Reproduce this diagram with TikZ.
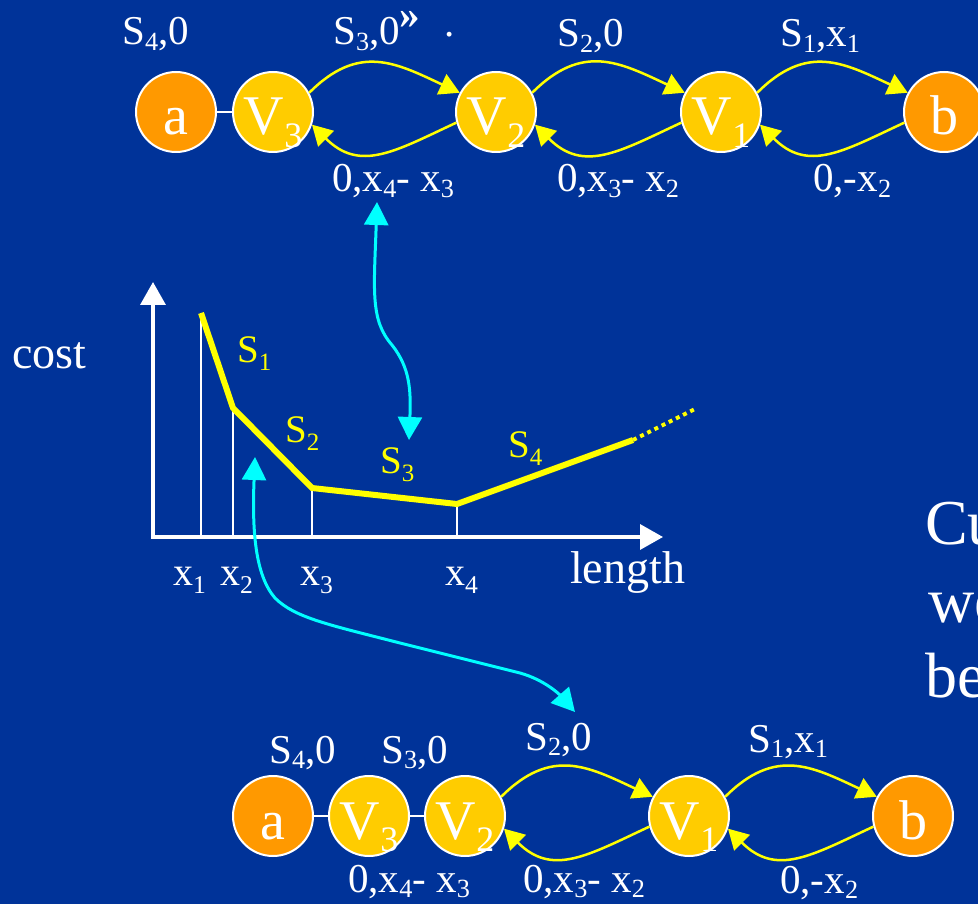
\documentclass[tikz,border=0pt]{standalone}
\usepackage{graphicx}
\usepackage{fontspec}
\setmainfont{Liberation Serif}
\usetikzlibrary{arrows.meta}
\definecolor{fond}{RGB}{0,51,153}
\definecolor{orangeA}{RGB}{255,153,0}
\definecolor{jauneV}{RGB}{255,204,0}
\definecolor{jaune}{RGB}{255,255,0}
\definecolor{cyanF}{RGB}{0,255,255}
\newcommand{\bas}[2][.14em]{\raisebox{-#1}{\scalebox{.64}{#2}}}

\begin{document}
\begin{tikzpicture}[x=1pt,y=1pt,
  sommet/.style={circle,draw=white,line width=2pt,minimum size=80pt,inner sep=0pt,text height=46pt,text depth=0pt,text=white,font=\fontsize{56}{60}\selectfont},
  extr/.style={sommet,fill=orangeA},
  inter/.style={sommet,fill=jauneV},
  etiq/.style={anchor=base west,inner sep=0pt,text=white,font=\fontsize{41}{44}\selectfont},
  pente/.style={anchor=base west,inner sep=0pt,text=jaune,font=\fontsize{39}{42}\selectfont},
  fleche/.style={draw=jaune,line width=2.5pt,-{Triangle[length=20pt,width=22pt]}},
  lien/.style={draw=white,line width=2pt},
  renvoi/.style={draw=cyanF,line width=3pt,{Triangle[length=23pt,width=24pt]}-{Triangle[length=23pt,width=24pt]}},
  axe/.style={draw=white,line width=3.5pt,{Triangle[length=23pt,width=25pt]}-{Triangle[length=23pt,width=25pt]}}]
\useasboundingbox (0,0) rectangle (978,-904);
\clip (0,0) rectangle (978,-904);
\fill[fond] (0,0) rectangle (978,-904);
\begin{scope}
% Rangée du haut : a, V3, V2, V1, b avec les arcs aller et retour.
\node[extr] (aT) at (176,-112) {a};
\node[inter] (v3T) at (273,-112) {V\bas[.22em]{3}};
\node[inter] (v2T) at (496,-112) {V\bas[.22em]{2}};
\node[inter] (v1T) at (721,-112) {V\bas[.22em]{1}};
\node[extr] (bT) at (944,-112) {b};
\draw[lien] (aT) -- (v3T);
\draw[fleche] (v3T.28) to[out=45,in=155,looseness=1.2] (v2T.152);
\draw[fleche] (v2T.195) to[out=205,in=-45,looseness=1.2] (v3T.-18);
\draw[fleche] (v2T.28) to[out=45,in=155,looseness=1.2] (v1T.152);
\draw[fleche] (v1T.195) to[out=205,in=-45,looseness=1.2] (v2T.-18);
\draw[fleche] (v1T.28) to[out=45,in=155,looseness=1.2] (bT.152);
\draw[fleche] (bT.195) to[out=205,in=-45,looseness=1.2] (v1T.-18);
\node[etiq] (s4T) at (122,-45) {S\bas{4},0};
\node[etiq] (s3T) at (333,-45) {S\bas{3},0\raisebox{.4em}{\textbf{»}}\hspace{24pt}\raisebox{.2em}{.}};
\node[etiq] (s2T) at (557,-47) {S\bas{2},0};
\node[etiq] (s1T) at (780,-47) {S\bas{1},x\bas{1}};
\node[etiq] (r3T) at (332,-192) {0,x\bas{4}- x\bas{3}};
\node[etiq] (r2T) at (557,-192) {0,x\bas{3}- x\bas{2}};
\node[etiq] (r1T) at (813,-192) {0,-x\bas{2}};
\end{scope}
\begin{scope}
% Courbe de coût par morceaux, pentes S1 à S4.
\coordinate (O) at (153,-537);
\coordinate (hautY) at (153,-282);
\coordinate (finX) at (663,-537);
\coordinate (p1) at (201,-313);
\coordinate (p2) at (233,-408);
\coordinate (p3) at (312,-488);
\coordinate (p4) at (457,-504);
\coordinate (p5) at (633,-440);
\coordinate (p6) at (697,-408);
\draw[white,line width=1.8pt] (p1) -- (p1 |- O);
\draw[white,line width=1.8pt] (p2) -- (p2 |- O);
\draw[white,line width=1.8pt] (p3) -- (p3 |- O);
\draw[white,line width=1.8pt] (p4) -- (p4 |- O);
\draw[axe] (hautY) -- (O) -- (finX);
\draw[jaune,line width=6pt] (p1) -- (p2) -- (p3) -- (p4) -- (p5);
\draw[jaune,line width=4pt,dash pattern=on 4pt off 4pt] (p5) -- (p6);
\node[pente] (ps1) at (237,-362) {S\bas[.22em]{1}};
\node[pente] (ps2) at (285,-442) {S\bas[.22em]{2}};
\node[pente] (ps3) at (380,-473) {S\bas[.22em]{3}};
\node[pente] (ps4) at (508,-457) {S\bas[.22em]{4}};
\node[etiq,font=\fontsize{46}{48}\selectfont] (cout) at (12,-368) {cost};
\node[etiq,font=\fontsize{46}{48}\selectfont] (longueur) at (570,-583) {length};
\node[etiq,font=\fontsize{40}{42}\selectfont] (x1) at (173,-585) {x\bas[.22em]{1}};
\node[etiq,font=\fontsize{40}{42}\selectfont] (x2) at (220,-585) {x\bas[.22em]{2}};
\node[etiq,font=\fontsize{40}{42}\selectfont] (x3) at (300,-585) {x\bas[.22em]{3}};
\node[etiq,font=\fontsize{40}{42}\selectfont] (x4) at (445,-585) {x\bas[.22em]{4}};
\end{scope}
% Renvois cyan entre les rangées et la courbe.
\coordinate (h1) at (377,-202);
\coordinate (b1) at (409,-440);
\draw[renvoi] (h1) .. controls (374,-290) and (370,-320) .. (392,-345)
      .. controls (410,-368) and (411,-390) .. (b1);
\coordinate (h2) at (255,-457);
\coordinate (b2) at (575,-712);
\draw[renvoi] (h2) .. controls (252,-530) and (255,-575) .. (275,-598)
      .. controls (295,-618) and (330,-625) .. (400,-643) -- (520,-673)
      .. controls (545,-680) and (560,-695) .. (b2);
\begin{scope}
% Rangée du bas : V3 et V2 accolés à a.
\node[extr] (aB) at (273,-816) {a};
\node[inter] (v3B) at (369,-816) {V\bas[.22em]{3}};
\node[inter] (v2B) at (465,-816) {V\bas[.22em]{2}};
\node[inter] (v1B) at (689,-816) {V\bas[.22em]{1}};
\node[extr] (bB) at (913,-816) {b};
\draw[lien] (aB) -- (v3B);
\draw[lien] (v3B) -- (v2B);
\draw[fleche] (v2B.28) to[out=45,in=155,looseness=1.2] (v1B.152);
\draw[fleche] (v1B.195) to[out=205,in=-45,looseness=1.2] (v2B.-18);
\draw[fleche] (v1B.28) to[out=45,in=155,looseness=1.2] (bB.152);
\draw[fleche] (bB.195) to[out=205,in=-45,looseness=1.2] (v1B.-18);
\node[etiq] (s4B) at (269,-763) {S\bas{4},0};
\node[etiq] (s3B) at (381,-763) {S\bas{3},0};
\node[etiq] (s2B) at (525,-750) {S\bas{2},0};
\node[etiq] (s1B) at (748,-752) {S\bas{1},x\bas{1}};
\node[etiq] (r3B) at (348,-892) {0,x\bas{4}- x\bas{3}};
\node[etiq] (r2B) at (523,-892) {0,x\bas{3}- x\bas{2}};
\node[etiq] (r1B) at (780,-893) {0,-x\bas{2}};
\end{scope}
% Texte coupé à droite.
\node[etiq,font=\fontsize{64}{77}\selectfont] (cu) at (925,-544) {Cu};
\node[etiq,font=\fontsize{64}{77}\selectfont] (we) at (928,-622) {we};
\node[etiq,font=\fontsize{64}{77}\selectfont] (be) at (925,-697) {be};
\end{tikzpicture}
\end{document}
